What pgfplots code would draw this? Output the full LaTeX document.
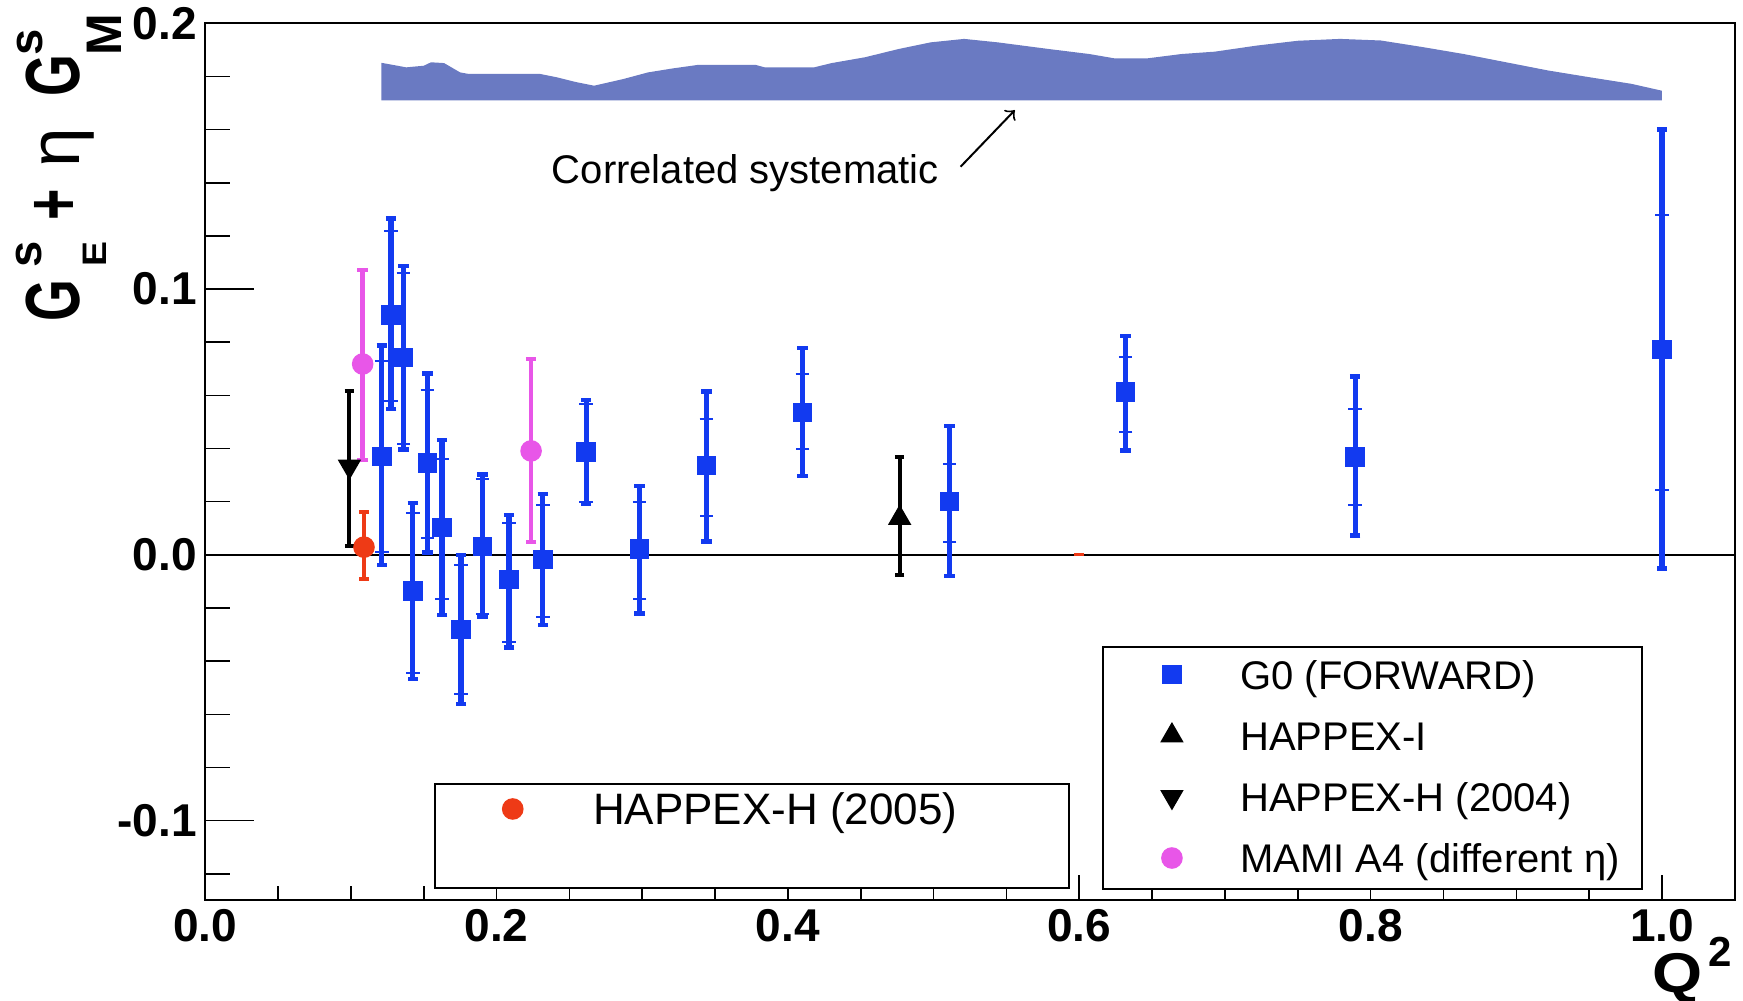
\documentclass[border=0pt]{standalone}
\usepackage{fontspec}
\setmainfont{Liberation Sans}
\usepackage{graphicx}
\usepackage{pgfplots}
\pgfplotsset{compat=1.18}
\usepackage{pgfplotstable}

\definecolor{g0blue}{RGB}{18,58,240}
\definecolor{mamimag}{RGB}{232,86,232}
\definecolor{hhred}{RGB}{238,58,22}
\definecolor{bandcol}{RGB}{106,122,194}

% G0 forward: x, value, total +, total -, stat +, stat -
\pgfplotstableread{
x y tp tm sp sm
0.1212 0.0370 0.0417 0.0408 0.0360 0.0361
0.1276 0.0903 0.0363 0.0355 0.0316 0.0325
0.1360 0.0743 0.0344 0.0346 0.0317 0.0327
0.1425 -0.0135 0.0329 0.0332 0.0292 0.0311
0.1525 0.0346 0.0337 0.0337 0.0276 0.0283
0.1626 0.0103 0.0328 0.0330 0.0256 0.0269
0.1756 -0.0281 0.0281 0.0279 0.0243 0.0242
0.1903 0.0032 0.0271 0.0266 0.0253 0.0256
0.2086 -0.0092 0.0243 0.0256 0.0213 0.0236
0.2318 -0.0018 0.0246 0.0247 0.0206 0.0216
0.2616 0.0386 0.0196 0.0195 0.0182 0.0188
0.2982 0.0023 0.0235 0.0243 0.0175 0.0189
0.3440 0.0336 0.0279 0.0286 0.0174 0.0190
0.4100 0.0536 0.0242 0.0239 0.0144 0.0136
0.5110 0.0200 0.0285 0.0280 0.0143 0.0150
0.6318 0.0613 0.0211 0.0220 0.0130 0.0149
0.7894 0.0368 0.0303 0.0295 0.0181 0.0182
1.0000 0.0772 0.0828 0.0823 0.0508 0.0527
}\gzero

% correlated systematic band (outline)
\pgfplotstableread{
x y
0.121 0.171
0.121 0.1851
0.138 0.1834
0.150 0.1840
0.155 0.1853
0.164 0.1850
0.175 0.1815
0.181 0.1809
0.230 0.1809
0.241 0.1797
0.255 0.1778
0.267 0.1765
0.287 0.1790
0.304 0.1815
0.321 0.1830
0.338 0.1843
0.378 0.1843
0.384 0.1834
0.418 0.1834
0.430 0.1850
0.453 0.1872
0.476 0.1903
0.498 0.1928
0.521 0.1941
0.544 0.1928
0.579 0.1903
0.607 0.1884
0.624 0.1868
0.647 0.1868
0.670 0.1884
0.693 0.1893
0.722 0.1916
0.750 0.1934
0.779 0.1941
0.807 0.1935
0.836 0.1910
0.864 0.1884
0.893 0.1853
0.922 0.1822
0.950 0.1797
0.979 0.1772
1.000 0.1746
1.000 0.171
}\band

\newcommand\fs[1]{\fontsize{#1}{#1}\selectfont}

\begin{document}
\begin{tikzpicture}
\pgfplotsset{
  common/.style={
    scale only axis, width=382.4pt, height=219.3pt,
    xmin=0, xmax=1.05, ymin=-0.13, ymax=0.2,
    axis line style={line width=0.5pt},
    tick style={line width=0.4pt, black},
    tick align=inside,
    ticklabel style={font=\fs{11.5pt}\bfseries},
    legend cell align=left,
    legend image code/.code={\draw[##1] plot coordinates {(0pt,1.2pt)};},
  },
}
% ---------- axis A: x ticks, legend boxes, legend 1 ----------
\begin{axis}[common, hide y axis,
  xtick={0,0.2,0.4,0.6,0.8,1.0},
  xticklabels={0.0,0.2,0.4,0.6,0.8,1.0},
  minor xtick={0.05,0.1,0.15,0.25,0.3,0.35,0.45,0.5,0.55,0.65,0.7,0.75,0.85,0.9,0.95},
  xtick pos=bottom,
  major tick length=6.25pt, minor tick length=3.5pt,
  xticklabel style={inner sep=0.5pt, yshift=-1.5pt},
  legend style={draw=none, fill=none, at={(0.194,0.1243)}, anchor=north west,
    inner sep=0pt, column sep=17.6pt, font=\fs{11pt},
    nodes={anchor=west, inner sep=0pt, text height=8pt, text depth=2.8pt}},
]
\draw[line width=0.5pt, fill=white] (axis description cs:0.1501,0.0141) rectangle (axis description cs:0.5646,0.1327);
\draw[line width=0.5pt, fill=white] (axis description cs:0.5868,0.0128) rectangle (axis description cs:0.9393,0.2886);
\addlegendimage{hhred, mark=*, mark size=2.5pt}
\addlegendentry{HAPPEX-H (2005)}
\end{axis}

% ---------- axis B: data, y ticks, legend 2 ----------
\begin{axis}[common,
  xtick=\empty,
  ytick={-0.1,0,0.1,0.2},
  yticklabels={-0.1,0.0,0.1,0.2},
  yticklabel style={xshift=1.4pt},
  minor ytick={-0.12,-0.08,-0.06,-0.04,-0.02,0.02,0.04,0.06,0.08,0.12,0.14,0.16,0.18},
  ytick pos=left,
  major tick length=12.3pt, minor tick length=6.25pt,
  legend style={draw=none, fill=none, at={(0.6247,0.2759)}, anchor=north west,
    inner sep=0pt, column sep=14.5pt, row sep=5.3pt, font=\fs{10pt},
    nodes={anchor=west, inner sep=0pt, text height=7.5pt, text depth=2.5pt}},
]
% systematic band
\addplot[fill=bandcol, draw=none, forget plot] table[x=x, y=y] {\band} -- cycle;
% zero line
\draw[line width=0.45pt] (axis cs:0,0) -- (axis cs:1.05,0);

% G0 statistical ticks
\addplot[forget plot, draw=none, mark=none,
  error bars/.cd, y dir=both, y explicit,
  error bar style={draw=g0blue, line width=1.3pt},
  error mark options={rotate=90, draw=g0blue, line width=0.5pt, mark size=1.7pt}]
  table[x=x, y=y, y error plus=sp, y error minus=sm] {\gzero};
% G0 total
\addplot[forget plot, only marks, mark=square*, g0blue, mark size=2.25pt,
  error bars/.cd, y dir=both, y explicit,
  error bar style={draw=g0blue, line width=1.3pt},
  error mark options={rotate=90, draw=g0blue, line width=1.1pt, mark size=1.3pt}]
  table[x=x, y=y, y error plus=tp, y error minus=tm] {\gzero};

% HAPPEX-H (2004)
\addplot[forget plot, only marks, mark=triangle*, black, mark size=3pt, mark options={rotate=180},
  error bars/.cd, y dir=both, y explicit,
  error bar style={draw=black, line width=1pt},
  error mark options={rotate=90, draw=black, line width=1pt, mark size=1.2pt}]
  coordinates {(0.099,0.0333) += (0,0.0284) -= (0,0.0300)};
% HAPPEX-I
\addplot[forget plot, only marks, mark=triangle*, black, mark size=3pt,
  error bars/.cd, y dir=both, y explicit,
  error bar style={draw=black, line width=1pt},
  error mark options={rotate=90, draw=black, line width=1pt, mark size=1.2pt}]
  coordinates {(0.4767,0.0138) += (0,0.0232) -= (0,0.0213)};
% MAMI A4
\addplot[forget plot, only marks, mark=*, mamimag, mark size=2.5pt,
  error bars/.cd, y dir=both, y explicit,
  error bar style={draw=mamimag, line width=1.1pt},
  error mark options={rotate=90, draw=mamimag, line width=1pt, mark size=1.3pt}]
  coordinates {(0.1081,0.0718) += (0,0.0355) -= (0,0.0361)
               (0.2237,0.0391) += (0,0.0344) -= (0,0.0341)};
% HAPPEX-H (2005)
\addplot[forget plot, only marks, mark=*, hhred, mark size=2.5pt,
  error bars/.cd, y dir=both, y explicit,
  error bar style={draw=hhred, line width=1.1pt},
  error mark options={rotate=90, draw=hhred, line width=1pt, mark size=1.3pt}]
  coordinates {(0.109,0.0029) += (0,0.0131) -= (0,0.0121)};
\addplot[forget plot, only marks, mark=-, hhred, mark size=1.2pt, mark options={line width=0.8pt}]
  coordinates {(0.6,0)};

% annotation
\node[anchor=base west, inner sep=0pt, font=\fs{10pt}] at (axis cs:0.2375,0.1398) {Correlated systematic};
\draw[->, line width=0.5pt] (axis cs:0.5185,0.1460) -- (axis cs:0.5558,0.1673);

% legend 2
\addlegendimage{g0blue, mark=square*, mark size=2.25pt}
\addlegendentry{G0 (FORWARD)}
\addlegendimage{black, mark=triangle*, mark size=3pt}
\addlegendentry{HAPPEX-I}
\addlegendimage{black, mark=triangle*, mark size=3pt, mark options={rotate=180}}
\addlegendentry{HAPPEX-H (2004)}
\addlegendimage{mamimag, mark=*, mark size=2.5pt}
\addlegendentry{MAMI A4 (different η)}
\end{axis}

% ---------- y label ----------
\begin{scope}[shift={(-31.3pt,144.65pt)}, rotate=90, transform shape]
  \node[anchor=base west, inner sep=0pt] at (0pt,0pt) {\scalebox{0.7}[1]{\fs{19.2pt}\bfseries G}};
  \node[anchor=base west, inner sep=0pt] at (13.4pt,9.5pt) {\fs{11.8pt}\bfseries s};
  \node[anchor=base west, inner sep=0pt] at (13.6pt,-6.7pt) {\scalebox{1.1}[1]{\fs{8.5pt}\bfseries E}};
  \node[anchor=base west, inner sep=0pt] at (25.2pt,0pt) {\scalebox{0.7}[1]{\fs{19.2pt}\bfseries +}};
  \node[anchor=base west, inner sep=0pt] at (38.3pt,0pt) {\fs{17.8pt}η};
  \node[anchor=base west, inner sep=0pt] at (56.2pt,0pt) {\scalebox{0.7}[1]{\fs{19.2pt}\bfseries G}};
  \node[anchor=base west, inner sep=0pt] at (66.4pt,9.25pt) {\fs{11.8pt}\bfseries s};
  \node[anchor=base west, inner sep=0pt] at (66.4pt,-10.25pt) {\fs{12.5pt}\bfseries M};
\end{scope}

% ---------- x label ----------
\node[anchor=base west, inner sep=0pt] at (361.6pt,-23.1pt) {\scalebox{1.15}[1]{\fs{14pt}\bfseries Q}};
\node[anchor=base west, inner sep=0pt] at (375.6pt,-16.6pt) {\fs{10.5pt}\bfseries 2};

\pgfresetboundingbox
\path[use as bounding box] (-51.3pt,-24.9pt) rectangle (384.45pt,225.1pt);
\end{tikzpicture}
\end{document}
